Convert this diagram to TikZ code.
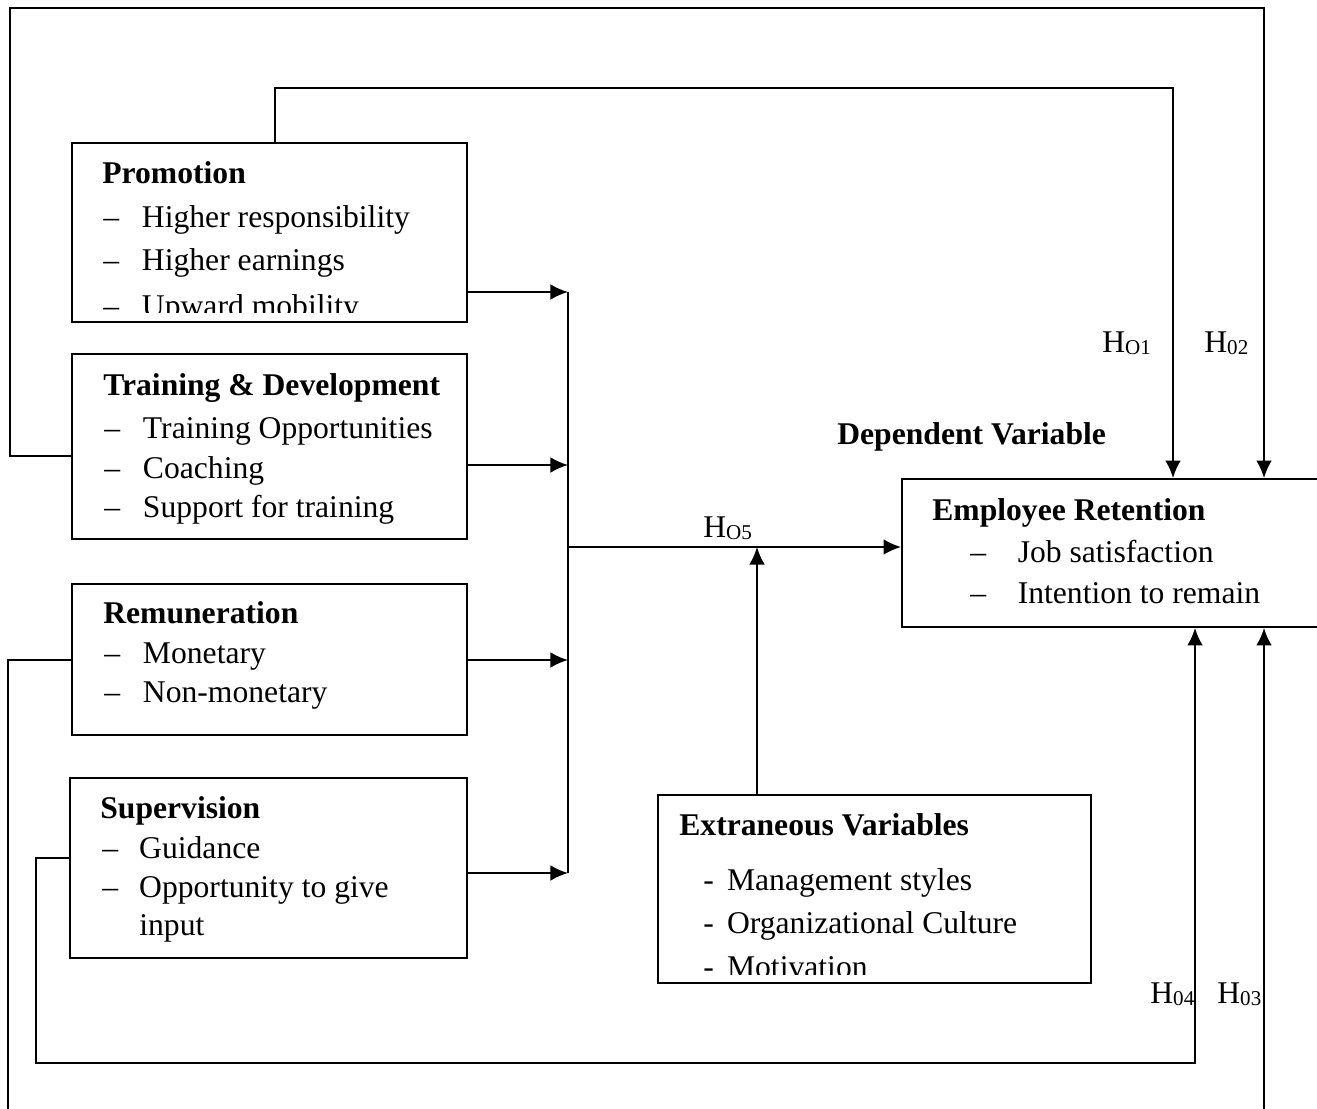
\documentclass[tikz,border=0pt]{standalone}
\usepackage{fontspec}
\setmainfont{Liberation Serif}
\usetikzlibrary{arrows.meta,fit}
\newcommand{\hlab}[1]{H\raisebox{-1.5pt}{\fontsize{12}{12}\selectfont #1}}
\newcommand{\itm}[2]{\makebox[#1][l]{#2}}
\tikzset{
	box/.style={draw, line width=1pt, inner sep=0pt},
	txt/.style={anchor=base west, inner sep=0pt, font=\fontsize{18}{22}\selectfont},
	ttl/.style={txt, font=\fontsize{18}{22}\selectfont\bfseries},
	ln/.style={line width=1.25pt},
	arr/.style={ln, -{Latex[length=10pt,width=9pt]}},
}
\begin{document}
\begin{tikzpicture}[x=0.02cm,y=-0.02cm]
	\clip (0,0) rectangle (1317,1108);
	% boxes
	\node[box, fit={(72,143) (467,322)}] (prom) {};
	\node[box, fit={(72,354) (467,539)}] (train) {};
	\node[box, fit={(72,584) (467,735)}] (rem) {};
	\node[box, fit={(70,778) (467,958)}] (sup) {};
	\node[box, fit={(658,795) (1091,983)}] (ext) {};
	\node[box, fit={(902,479) (1340,627)}] (ret) {};
	% promotion
	\node[ttl] (promT) at (102,184) {Promotion};
	\node[txt] (promA) at (103,227) {\itm{22pt}{–}Higher responsibility};
	\node[txt] (promB) at (103,270) {\itm{22pt}{–}Higher earnings};
	\begin{scope}
		\clip (72,143) rectangle (467,312);
		\node[txt] (promC) at (103,316) {\itm{22pt}{–}Upward mobility};
	\end{scope}
	% training
	\node[ttl] (trainT) at (103,395) {Training \& Development};
	\node[txt] (trainA) at (104,438) {\itm{22pt}{–}Training Opportunities};
	\node[txt] (trainB) at (104,478) {\itm{22pt}{–}Coaching};
	\node[txt] (trainC) at (104,517) {\itm{22pt}{–}Support for training};
	% remuneration
	\node[ttl] (remT) at (103,623) {Remuneration};
	\node[txt] (remA) at (104,663) {\itm{22pt}{–}Monetary};
	\node[txt] (remB) at (104,702) {\itm{22pt}{–}Non-monetary};
	% supervision
	\node[ttl] (supT) at (100,818) {Supervision};
	\node[txt] (supA) at (102,858) {\itm{21pt}{–}Guidance};
	\node[txt] (supB) at (102,897) {\itm{21pt}{–}Opportunity to give};
	\node[txt] (supC) at (139,935) {input};
	% extraneous
	\node[ttl] (extT) at (679,835) {Extraneous Variables};
	\node[txt] (extA) at (703,890) {\itm{13.5pt}{-}Management styles};
	\node[txt] (extB) at (703,933) {\itm{13.5pt}{-}Organizational Culture};
	\begin{scope}
		\clip (658,795) rectangle (1091,974);
		\node[txt] (extC) at (703,977) {\itm{13.5pt}{-}Motivation};
	\end{scope}
	% retention
	\node[ttl] (depT) at (837,444) {Dependent Variable};
	\node[ttl] (retT) at (932,520) {Employee Retention};
	\node[txt] (retA) at (970,562) {\itm{27pt}{–}Job satisfaction};
	\node[txt] (retB) at (970,603) {\itm{27pt}{–}Intention to remain};
	% hypothesis labels
	\node[txt] (h1) at (1102,352) {\hlab{O1}};
	\node[txt] (h2) at (1204,352) {\hlab{02}};
	\node[txt] (h5) at (703,537) {\hlab{O5}};
	\node[txt] (h4) at (1150,1003) {\hlab{04}};
	\node[txt] (h3) at (1217,1003) {\hlab{03}};
	% bus to retention
	\coordinate (b1) at (568,292);
	\coordinate (b2) at (568,465);
	\coordinate (b3) at (568,660);
	\coordinate (b4) at (568,873);
	\coordinate (bm) at (568,547);
	\draw[arr] (prom.east |- b1) -- (b1);
	\draw[arr] (train.east |- b2) -- (b2);
	\draw[arr] (rem.east |- b3) -- (b3);
	\draw[arr] (sup.east |- b4) -- (b4);
	\draw[ln] (b1) -- (b4);
	\draw[arr] (bm) -- (ret.west |- bm);
	\coordinate (xv) at (757,547);
	\draw[arr] (ext.north -| xv) -- (xv);
	% loops above
	\coordinate (pa) at (275,88);
	\coordinate (pb) at (1173,88);
	\draw[arr] (prom.north -| pa) -- (pa) -- (pb) -- (ret.north -| pb);
	\coordinate (ta) at (10,456);
	\coordinate (tb) at (10,8);
	\coordinate (tc) at (1264,8);
	\draw[arr] (train.west |- ta) -- (ta) -- (tb) -- (tc) -- (ret.north -| tc);
	% loops below
	\coordinate (ra) at (8,660);
	\coordinate (rb) at (8,1115);
	\draw[ln] (rem.west |- ra) -- (ra) -- (rb);
	\coordinate (rc) at (1264,1115);
	\draw[arr] (rc) -- (ret.south -| rc);
	\coordinate (sa) at (36,858);
	\coordinate (sb) at (36,1063);
	\coordinate (sc) at (1195,1063);
	\draw[arr] (sup.west |- sa) -- (sa) -- (sb) -- (sc) -- (ret.south -| sc);
\end{tikzpicture}
\end{document}
